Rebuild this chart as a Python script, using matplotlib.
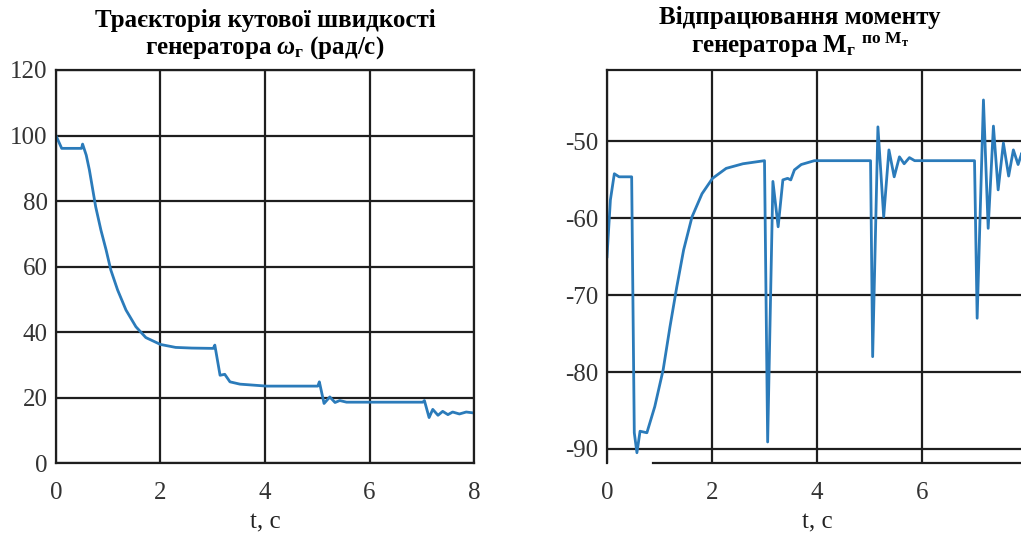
import matplotlib
matplotlib.use('Agg')
import matplotlib.pyplot as plt

plt.rcParams['font.family'] = ['Liberation Serif', 'DejaVu Serif']
plt.rcParams['mathtext.fontset'] = 'custom'
plt.rcParams['mathtext.rm'] = 'Liberation Serif:bold'
plt.rcParams['mathtext.it'] = 'Liberation Serif:italic:bold'
plt.rcParams['mathtext.bf'] = 'Liberation Serif:bold'
plt.rcParams['axes.unicode_minus'] = False

# angular speed of the generator, rad/s
t_w = [0.0, 0.11, 0.49, 0.51, 0.58, 0.64, 0.70, 0.76, 0.86, 0.96, 1.05, 1.18, 1.34,
       1.53, 1.72, 2.0, 2.29, 2.6, 3.01, 3.04, 3.14, 3.23, 3.33, 3.52, 4.03, 5.01,
       5.04, 5.13, 5.24, 5.34, 5.43, 5.56, 7.02, 7.05, 7.14, 7.21, 7.31, 7.40, 7.50,
       7.59, 7.72, 7.85, 8.0]
w = [100.0, 96.1, 96.1, 97.4, 94.0, 89.5, 83.9, 78.3, 71.2, 65.1, 59.0, 52.9, 46.8,
     41.7, 38.4, 36.3, 35.4, 35.2, 35.1, 36.1, 26.9, 27.2, 24.9, 24.2, 23.6, 23.6,
     24.9, 18.3, 20.3, 18.6, 19.2, 18.7, 18.7, 19.2, 14.0, 16.5, 14.7, 15.9, 14.9,
     15.7, 15.1, 15.7, 15.4]

# generator torque
t_m = [0.0, 0.065, 0.14, 0.23, 0.47, 0.52, 0.57, 0.63, 0.76, 0.91, 1.07, 1.20, 1.33,
       1.46, 1.62, 1.81, 2.01, 2.27, 2.59, 3.0, 3.06, 3.16, 3.26, 3.35, 3.44, 3.50,
       3.57, 3.70, 3.95, 5.02, 5.06, 5.16, 5.27, 5.37, 5.47, 5.57, 5.66, 5.76, 5.86,
       7.0, 7.05, 7.17, 7.26, 7.36, 7.45, 7.55, 7.65, 7.74, 7.83, 7.9, 8.0]
m = [-65.0, -57.6, -54.2, -54.6, -54.6, -87.9, -90.5, -87.7, -87.9, -84.5, -79.7,
     -74.1, -68.9, -64.1, -59.8, -56.8, -54.8, -53.5, -52.9, -52.5, -89.1, -55.2,
     -61.1, -55.0, -54.8, -55.0, -53.7, -53.0, -52.5, -52.5, -78.0, -48.1, -59.8,
     -51.1, -54.6, -52.0, -52.9, -52.1, -52.5, -52.5, -73.0, -44.6, -61.3, -48.0,
     -56.3, -50.2, -54.5, -51.1, -53.0, -51.5, -53.0]

x_ticks = [0, 2, 4, 6, 8]
w_ticks = [0, 20, 40, 60, 80, 100, 120]
m_ticks = [-90, -80, -70, -60, -50]

line_color = '#2b7bba'
grid_color = '#1e1e1e'

fig = plt.figure(figsize=(10.21, 5.33), dpi=100)
ax1 = fig.add_axes([0.0548, 0.1304, 0.4095, 0.7383])
ax2 = fig.add_axes([0.5945, 0.1304, 0.4114, 0.7383])

for ax in (ax1, ax2):
    ax.grid(True, color=grid_color, linewidth=1.6)
    ax.set_axisbelow(True)
    ax.tick_params(length=0, labelsize=18, colors='#333333')
    ax.tick_params(axis='x', pad=13)
    ax.tick_params(axis='y', pad=6)
    for s in ax.spines.values():
        s.set_color(grid_color)
        s.set_linewidth(1.6)
    ax.set_xlim(0, 8)
    ax.set_xlabel('t, c', fontsize=18, labelpad=6, color='#222222')

ax1.plot(t_w, w, color=line_color, linewidth=2.0)
ax1.set_xticks(x_ticks)
ax1.set_yticks(w_ticks)
ax1.set_ylim(0, 120)
ax1.set_title('Траєкторія кутової швидкості\nгенератора $\\mathit{\\omega}_{\\mathrm{г}}$ (рад/с)',
              fontsize=18, fontweight='bold', pad=12, linespacing=1.1)

# the 8 s tick falls past the figure edge on this panel
ax2.plot(t_m, m, color=line_color, linewidth=2.0)
ax2.set_xticks(x_ticks[:-1])
ax2.set_yticks(m_ticks)
ax2.set_ylim(-91.9, -40.7)
ax2.spines['bottom'].set_bounds(0.87, 8)
ax2.set_title('Відпрацювання моменту\nгенератора $\\mathbf{M}_{\\mathrm{г}}$ $^{\\mathrm{по}\\ \\mathrm{M}_{\\mathrm{т}}}$',
              fontsize=18, fontweight='bold', pad=12, linespacing=1.1, x=0.46)

fig.savefig('out.png', dpi=100)
